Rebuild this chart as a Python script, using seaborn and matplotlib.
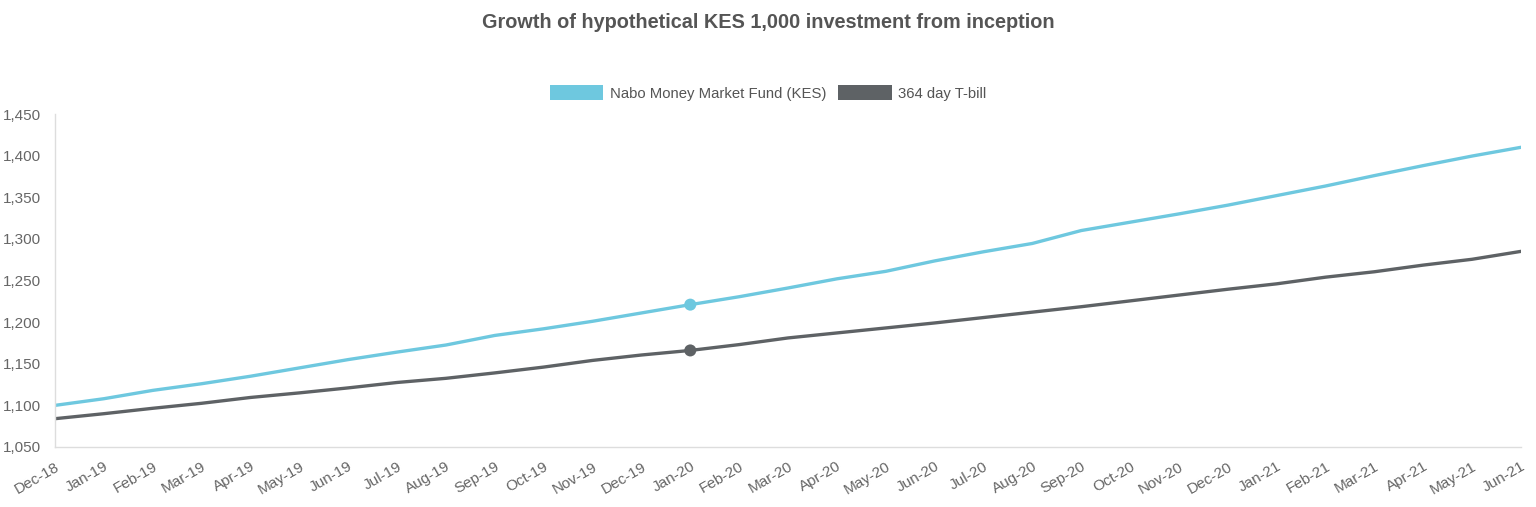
import numpy as np
import pandas as pd
import seaborn as sns
import matplotlib.pyplot as plt
from matplotlib.patches import Patch
from matplotlib.ticker import FuncFormatter

# data
months = ["Dec-18", "Jan-19", "Feb-19", "Mar-19", "Apr-19", "May-19", "Jun-19", "Jul-19",
          "Aug-19", "Sep-19", "Oct-19", "Nov-19", "Dec-19", "Jan-20", "Feb-20", "Mar-20",
          "Apr-20", "May-20", "Jun-20", "Jul-20", "Aug-20", "Sep-20", "Oct-20", "Nov-20",
          "Dec-20", "Jan-21", "Feb-21", "Mar-21", "Apr-21", "May-21", "Jun-21"]
nabo = [1100, 1108, 1118, 1126, 1135, 1145, 1155, 1164, 1172.5, 1184, 1192, 1201, 1211,
        1221, 1230.5, 1241, 1252, 1261, 1273.5, 1284.5, 1294.5, 1310, 1320, 1330, 1340.5,
        1352, 1363.5, 1376, 1388, 1399.5, 1410]
tbill = [1084, 1090, 1096.5, 1102.5, 1109.5, 1115, 1121, 1127.5, 1132.5, 1139, 1146,
         1154, 1160.5, 1166, 1173, 1181, 1187, 1193, 1199, 1205.5, 1212, 1218.5, 1225.5,
         1232.5, 1239.5, 1246, 1254, 1260.5, 1268.5, 1275.5, 1285]
series = ["Nabo Money Market Fund (KES)", "364 day T-bill"]
colors = ["#6EC8DF", "#5E6265"]
highlight = "Jan-20"

df = pd.DataFrame({
    "idx": list(range(len(months))) * 2,
    "month": months * 2,
    "value": nabo + tbill,
    "series": [series[0]] * len(months) + [series[1]] * len(months),
})

sns.set_style("white")
plt.rcParams['font.family'] = ['Liberation Sans', 'DejaVu Sans']

fig = plt.figure(figsize=(15.36, 5.07), dpi=100)
ax = fig.add_axes([55/1536, 1 - 447/507, (1521-55)/1536, (447-114)/507])

pal = dict(zip(series, colors))
sns.lineplot(data=df, x="idx", y="value", hue="series", palette=pal,
             linewidth=2.4, legend=False, ax=ax)
pts = df[df["month"] == highlight]
sns.scatterplot(data=pts, x="idx", y="value", hue="series", palette=pal,
                s=75, edgecolor="none", legend=False, ax=ax, zorder=5)

ax.set_xlim(0, len(months) - 1)
ax.set_ylim(1050, 1450)
ax.set_yticks(np.arange(1050, 1451, 50))
ax.yaxis.set_major_formatter(FuncFormatter(lambda v, p: f"{v:,.0f}"))
ax.set_xticks(range(len(months)))
ax.set_xticklabels(months, rotation=30, ha="right", rotation_mode="anchor")
ax.tick_params(axis="both", colors="#666666", labelsize=11, length=0)
ax.tick_params(axis="y", pad=10)
ax.tick_params(axis="x", pad=9)
ax.set_xlabel("")
ax.set_ylabel("")

for s in ["top", "right"]:
    ax.spines[s].set_visible(False)
for s in ["left", "bottom"]:
    ax.spines[s].set_color("#DDDDDD")
    ax.spines[s].set_linewidth(1)

fig.suptitle("Growth of hypothetical KES 1,000 investment from inception",
             x=0.5, y=1 - 22/507, va="center", fontsize=14.3, fontweight="bold",
             color="#555555")

handles = [Patch(facecolor=c, edgecolor="none") for c in colors]
fig.legend(handles, series, loc="center", bbox_to_anchor=(0.5, 1 - 93/507),
           ncol=2, frameon=False, fontsize=10.7, labelcolor="#555555",
           handlelength=3.6, handleheight=1.1, handletextpad=0.45, columnspacing=0.8)

fig.savefig("out.png", dpi=100)
